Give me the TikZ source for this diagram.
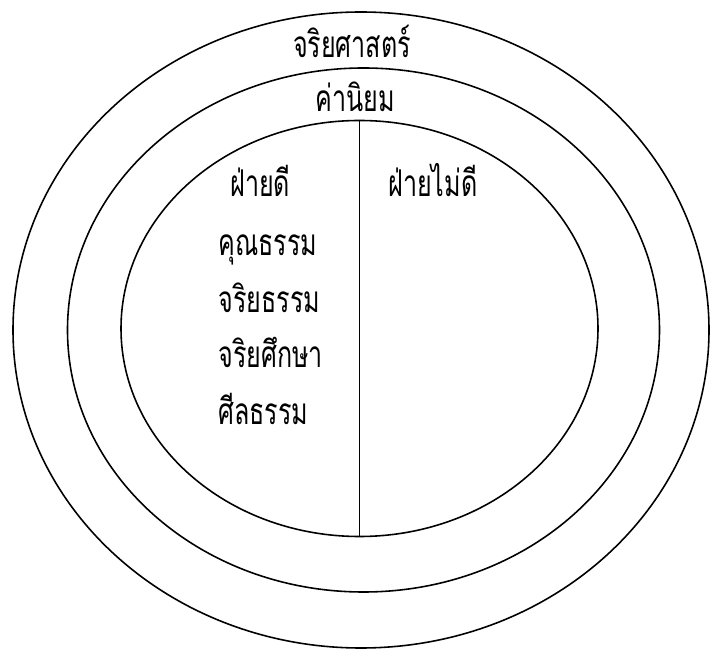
\documentclass[tikz,border=0pt]{standalone}
\usepackage{fontspec}
\newfontfamily\thaifont[Script=Thai, FakeStretch=0.68]{Loma}
\usetikzlibrary{shapes.geometric}
\tikzset{
  ring/.style={draw, ellipse, inner sep=0pt, line width=0.9pt},
  word/.style={font=\thaifont\fontsize{21}{25}\selectfont, inner sep=0pt}
}
\begin{document}
\begin{tikzpicture}
            \useasboundingbox (-7.22,-6.4) rectangle (7.02,6.6);
            \node[ring, minimum width=13.92cm, minimum height=12.72cm] (outer) at (0,0) {};
            \node[ring, minimum width=11.84cm, minimum height=10.48cm] (middle) at (0.05,0) {};
            \node[ring, minimum width=9.54cm, minimum height=8.32cm] (inner) at (-0.03,0.03) {};
            \draw[line width=0.8pt] (inner.north) -- (inner.south);
            \node[word, anchor=base] (ethics) at (-0.18,5.44) {จริยศาสตร์};
            \node[word, anchor=base] (values) at (-0.12,4.36) {ค่านิยม};
            \node[word, anchor=base west] (good) at (-2.62,2.66) {ฝ่ายดี};
            \node[word, anchor=base west] (bad) at (0.54,2.66) {ฝ่ายไม่ดี};
            \foreach \i/\y/\label in {1/1.48/คุณธรรม, 2/0.34/จริยธรรม, 3/-0.76/จริยศึกษา, 4/-1.9/ศีลธรรม}
            \node[word, anchor=base west] (item\i) at (-2.86,\y) {\label};
        \end{tikzpicture}
\end{document}
